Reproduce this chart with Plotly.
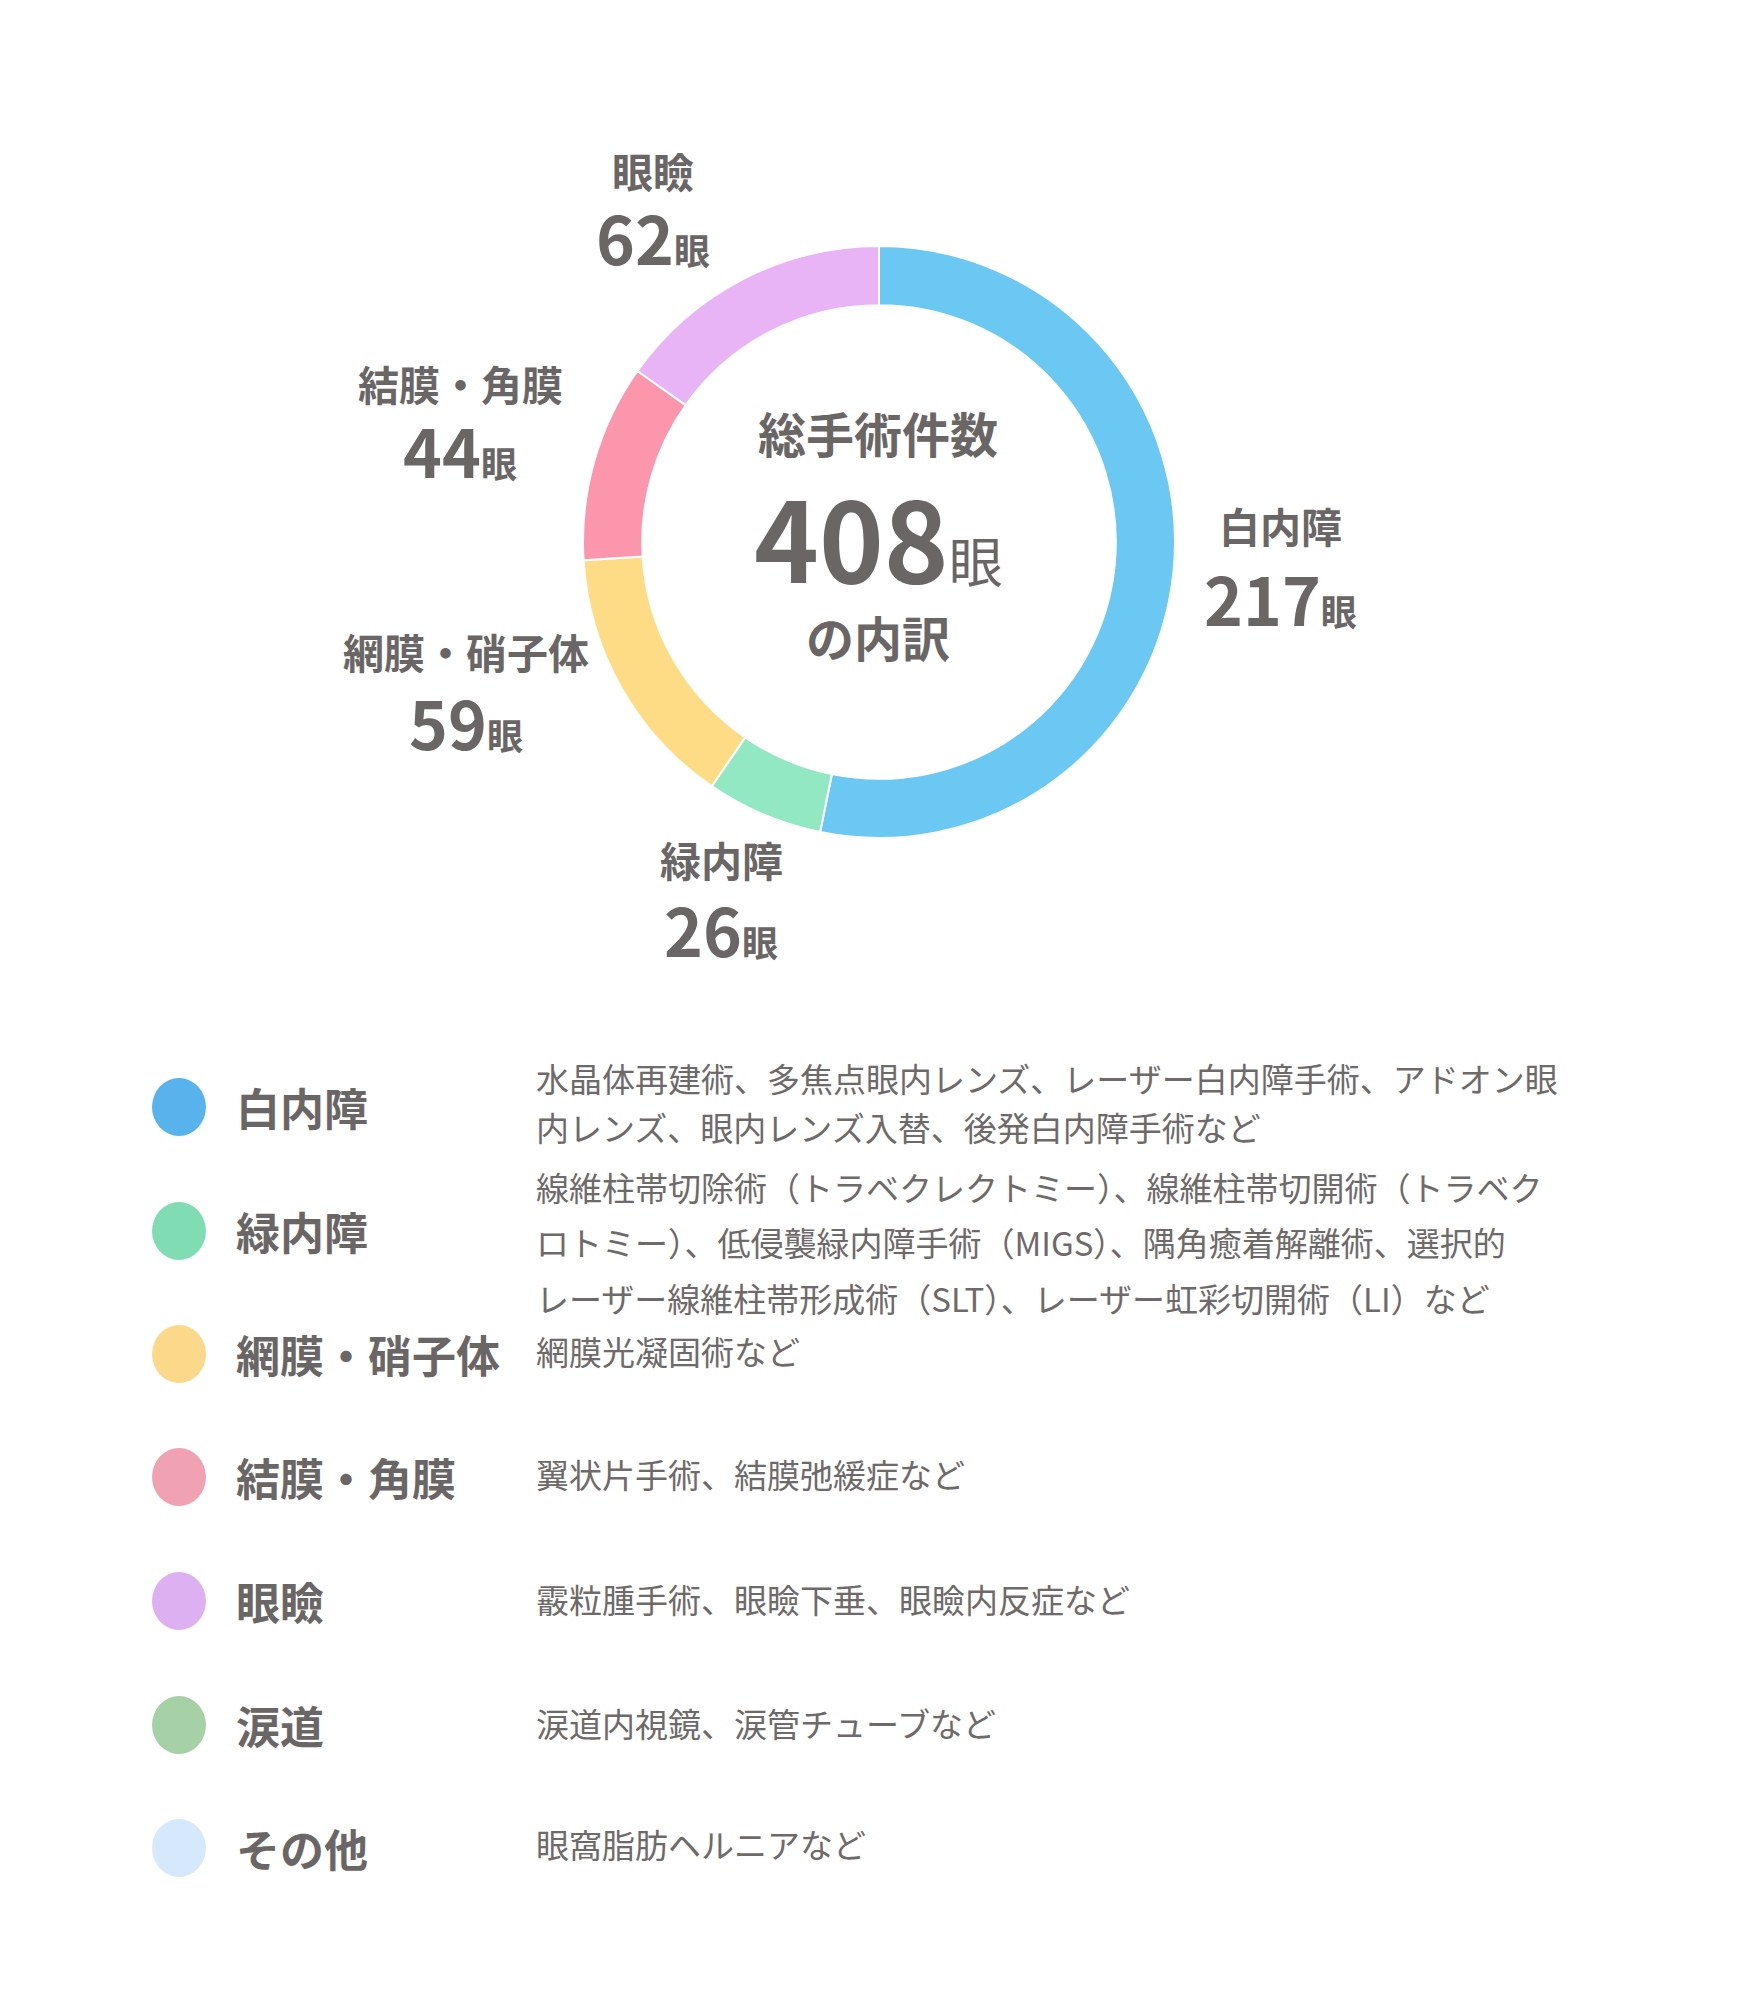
import plotly.graph_objects as go

W, H = 1760, 2006
categories = ["白内障", "緑内障", "網膜・硝子体", "結膜・角膜", "眼瞼", "涙道", "その他"]
values = [217, 26, 59, 44, 62, 0, 0]
total = 408
pie_colors = ["#6ac8f2", "#93e8c4", "#fddc85", "#fb96ad", "#e8b4f6", "#a9d3a6", "#d6e8fb"]
legend_colors = ["#58b2ec", "#80dcb2", "#fcd98a", "#f0a2b2", "#ddb0f2", "#a6d0a6", "#d6e8fb"]
descriptions = [
    ["水晶体再建術、多焦点眼内レンズ、レーザー白内障手術、アドオン眼", "内レンズ、眼内レンズ入替、後発白内障手術など"],
    ["線維柱帯切除術（トラベクレクトミー）、線維柱帯切開術（トラベク", "ロトミー）、低侵襲緑内障手術（MIGS）、隅角癒着解離術、選択的", "レーザー線維柱帯形成術（SLT）、レーザー虹彩切開術（LI）など"],
    ["網膜光凝固術など"],
    ["翼状片手術、結膜弛緩症など"],
    ["霰粒腫手術、眼瞼下垂、眼瞼内反症など"],
    ["涙道内視鏡、涙管チューブなど"],
    ["眼窩脂肪ヘルニアなど"],
]

GRAY = "#6b6666"
FONT = "Noto Sans CJK JP"

def px(x): return x / W
def py(y): return 1 - y / H

fig = go.Figure()
cx, cy, r = 871, 534, 296
fig.add_trace(go.Pie(
    labels=categories[:5], values=values[:5], hole=0.8, sort=False,
    direction="clockwise", rotation=0, textinfo="none", hoverinfo="skip",
    marker=dict(colors=pie_colors[:5], line=dict(color="white", width=2)),
    domain=dict(x=[px(cx - r), px(cx + r)], y=[py(cy + r), py(cy - r)]),
    showlegend=False))

ann = []
def t(x, y, s, size, anchor="center", bold=True, color=GRAY):
    ann.append(dict(x=px(x), y=py(y), xref="paper", yref="paper", text=(f"<b>{s}</b>" if bold else s),
                    showarrow=False, xanchor=anchor, yanchor="middle",
                    font=dict(family=FONT, size=size, color=color)))

label_pos = {0: (1272, 517, 589), 1: (713, 851, 920), 2: (458, 643, 713), 3: (452, 375, 441), 4: (645, 162, 228)}
for i, (x, y1, y2) in label_pos.items():
    t(x, y1, categories[i], 41)
    t(x, y2, f"{values[i]}<span style='font-size:36px'>眼</span>", 66)

t(870, 424, "総手術件数", 48)
t(870, 527, f"{total}<span style='font-size:54px;font-weight:normal'>眼</span>", 110)
t(870, 628, "の内訳", 48)

rows = [1099, 1223, 1346, 1469, 1593, 1717, 1840]
desc_y = [[1070, 1119], [1179, 1234, 1290], [1343], [1466], [1591], [1715], [1836]]
shapes = []
for i, cat in enumerate(categories):
    y = rows[i]
    shapes.append(dict(type="circle", xref="paper", yref="paper",
                       x0=px(171 - 27), x1=px(171 + 27), y0=py(y + 29), y1=py(y - 29),
                       fillcolor=legend_colors[i], line=dict(width=0)))
    t(226, y, cat, 44, anchor="left")
    for line, ly in zip(descriptions[i], desc_y[i]):
        t(526, ly, line, 33, anchor="left", bold=False, color="#6e6a6a")

fig.update_layout(width=W, height=H, margin=dict(l=0, r=0, t=0, b=0),
                  paper_bgcolor="white", plot_bgcolor="white",
                  annotations=ann, shapes=shapes)
fig.write_html("out.html")
